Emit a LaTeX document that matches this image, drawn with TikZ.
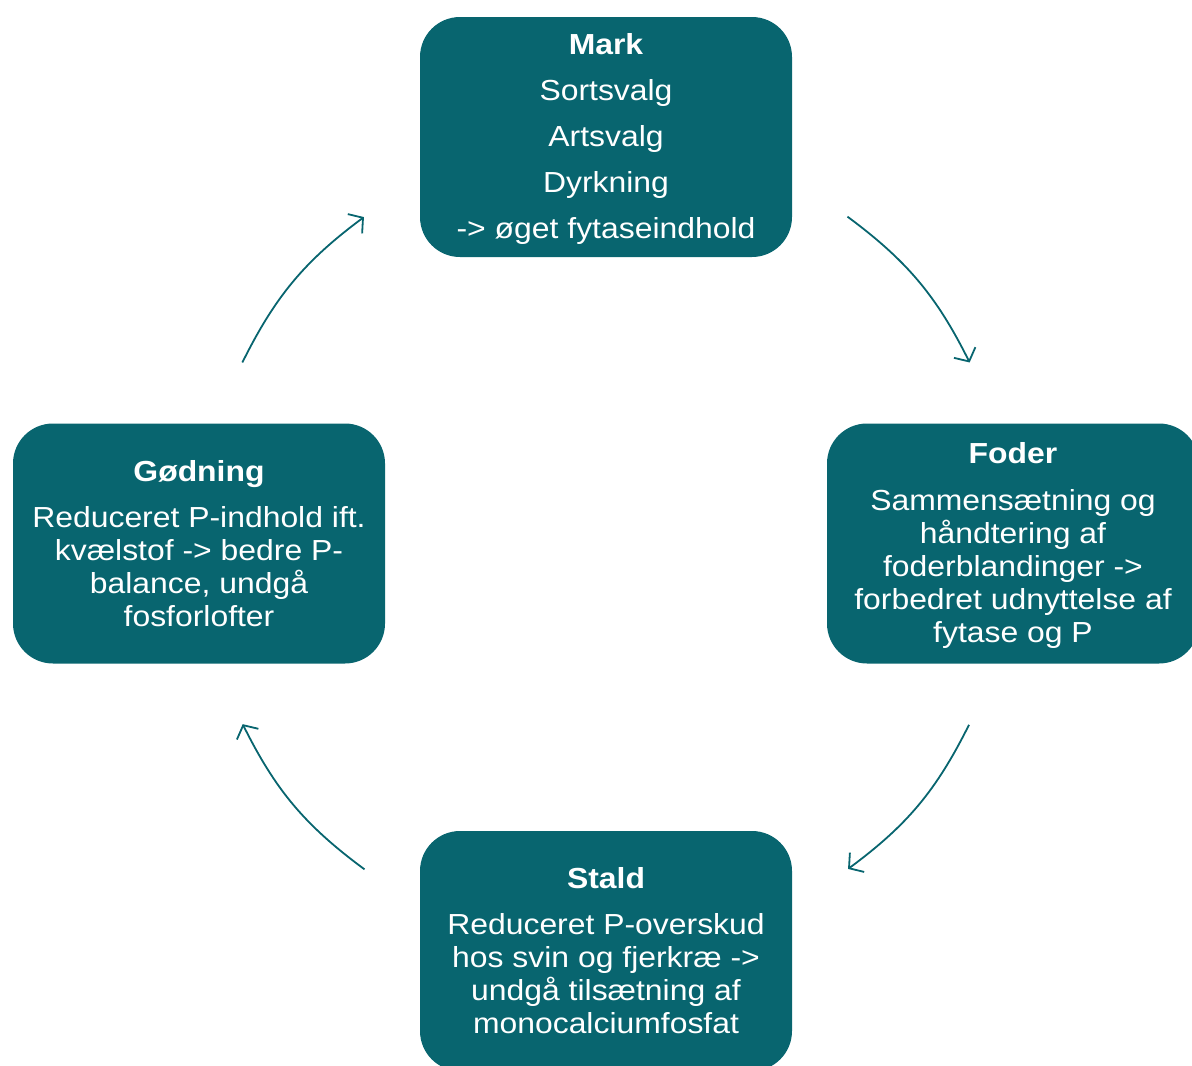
\documentclass[tikz,border=0pt]{standalone}
\usepackage{fontspec}
\setmainfont{Liberation Sans}[FakeStretch=1.1]
\usetikzlibrary{arrows.meta,calc}
\definecolor{boxteal}{HTML}{08656F}
\begin{document}
\begin{tikzpicture}[x=1pt,y=-1pt,
  box/.style={fill=boxteal, rounded corners=40pt, minimum width=372pt,
    minimum height=240pt, inner sep=0pt, align=center, text=white,
    font=\fontsize{29}{33}\selectfont},
  arr/.style={draw=boxteal, line width=1.8pt,
    -{Straight Barb[length=10pt,width=24pt,line width=1.8pt]}}]
\useasboundingbox (0,0) rectangle (1192,1066);
\node[box, font=\fontsize{29}{46}\selectfont] (mark) at (606,137)
  {\rule{0pt}{25pt}\textbf{Mark}\\ Sortsvalg\\ Artsvalg\\ Dyrkning\\ -> øget fytaseindhold};
\node[box] (foder) at (1013,543.5)
  {\rule{0pt}{25pt}\textbf{Foder}\\[14pt] Sammensætning og\\ håndtering af\\ foderblandinger ->\\ forbedret udnyttelse af\\ fytase og P};
\node[box] (stald) at (606,951)
  {\textbf{Stald}\\[13pt] Reduceret P-overskud\\ hos svin og fjerkræ ->\\ undgå tilsætning af\\ monocalciumfosfat};
\node[box] (goedning) at (199,543.5)
  {\textbf{Gødning}\\[13pt] Reduceret P-indhold ift.\\ kvælstof -> bedre P-\\ balance, undgå\\ fosforlofter};
\coordinate (O) at (606,543);
\coordinate (a1) at ($(O)+(53.5:406pt)$);
\coordinate (a2) at ($(O)+(26.4:406pt)$);
\coordinate (b1) at ($(O)+(-26.6:406pt)$);
\coordinate (b2) at ($(O)+(-53.4:406pt)$);
\coordinate (c1) at ($(O)+(233.5:406pt)$);
\coordinate (c2) at ($(O)+(206.5:406pt)$);
\coordinate (d1) at ($(O)+(153.6:406pt)$);
\coordinate (d2) at ($(O)+(126.6:406pt)$);
\draw[arr] (a1) to[bend left=13.5] (a2);
\draw[arr] (b1) to[bend left=13.5] (b2);
\draw[arr] (c1) to[bend left=13.5] (c2);
\draw[arr] (d1) to[bend left=13.5] (d2);
\end{tikzpicture}
\end{document}
